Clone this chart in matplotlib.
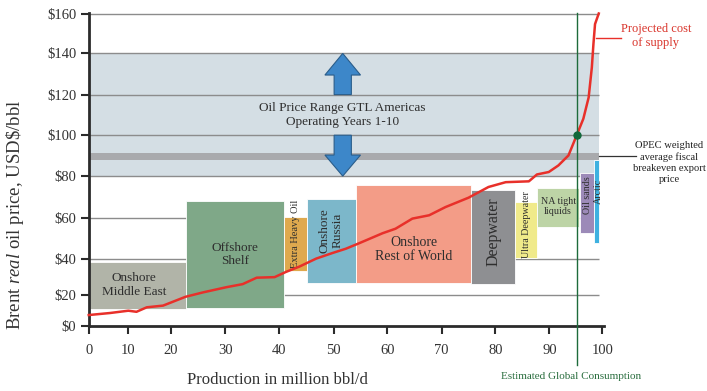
import numpy as np
import matplotlib
matplotlib.use('Agg')
import matplotlib.pyplot as plt
from matplotlib.patches import FancyArrow
from matplotlib.transforms import blended_transform_factory

plt.rcParams['font.family'] = ['Liberation Serif', 'DejaVu Serif']
plt.rcParams['mathtext.fontset'] = 'custom'
plt.rcParams['mathtext.rm'] = 'Liberation Serif'
plt.rcParams['mathtext.it'] = 'Liberation Serif:italic'

# ------------------------------------------------------------------ data
# supply segments: (label, x from, x to, price low, price high)
seg_names = ['Onshore\nMiddle East', 'Offshore\nShelf', 'Extra Heavy Oil',
             'Onshore\nRussia', 'Onshore\nRest of World', 'Deepwater',
             'Ultra Deepwater', 'NA tight\nliquids', 'Oil sands', 'Arctic']
seg_x0 = [0.0, 22.7, 40.9, 45.0, 54.1, 75.5, 83.7, 87.8, 95.7, 98.5]
seg_x1 = [22.7, 40.9, 45.0, 54.1, 75.5, 83.7, 87.8, 95.5, 98.5, 99.4]
seg_lo = [10.8, 11.6, 33.5, 26.7, 26.9, 26.1, 40.6, 55.6, 52.9, 47.8]
seg_hi = [38.5, 68.1, 60.5, 69.3, 75.6, 73.5, 67.6, 74.5, 81.7, 87.7]

# projected cost of supply curve
supply_x = [0.0, 5.4, 10.1, 12.0, 14.4, 18.2, 22.7, 25.9, 30.2, 33.2, 35.8,
            39.1, 41.2, 43.7, 46.8, 49.8, 52.3, 54.8, 59.1, 61.5, 64.6, 67.7,
            70.7, 75.0, 78.7, 81.9, 86.2, 87.7, 89.9, 91.7, 93.6, 95.2, 96.4,
            97.4, 98.0, 98.3, 98.6, 99.3]
supply_y = [7.1, 8.4, 9.9, 9.2, 12.1, 13.2, 18.9, 21.5, 24.4, 26.1, 29.7,
            30.0, 32.9, 35.9, 40.3, 43.0, 45.1, 47.8, 52.6, 54.8, 59.7, 61.3,
            65.2, 69.7, 74.8, 77.1, 77.5, 80.8, 82.0, 85.2, 90.1, 100.3, 108.1,
            118.6, 133.2, 144.7, 154.7, 160.0]

gtl_range = (80, 140)          # oil price range GTL Americas
opec_band = (87.7, 91.1)       # OPEC weighted fiscal breakeven
consumption = 95.3             # estimated global consumption, million bbl/d
breakeven_price = 100.3

x_ticks = [0, 10, 20, 30, 40, 50, 60, 70, 80, 90, 100]
y_ticks = [0, 20, 40, 60, 80, 100, 120, 140, 160]
y_ticklabels = ['$%d' % v for v in y_ticks]

# the source axes are not evenly spaced near the origin: relative tick spacing
x_tick_pos = [0, 39.3, 82.3, 137, 191.3, 245.6, 299.6, 354, 408, 462, 515.3]
y_tick_pos = [0, 31, 67, 108.3, 150.3, 191.3, 232, 273.3, 313.3]


def piecewise(vals, pos):
    vals = np.asarray(vals, float)
    pos = np.asarray(pos, float)

    def conv(v, a, b):
        v = np.asarray(v, float)
        out = np.interp(v, a, b)
        s0 = (b[1] - b[0]) / (a[1] - a[0])
        s1 = (b[-1] - b[-2]) / (a[-1] - a[-2])
        out = np.where(v < a[0], b[0] + (v - a[0]) * s0, out)
        out = np.where(v > a[-1], b[-1] + (v - a[-1]) * s1, out)
        return out
    return (lambda v: conv(v, vals, pos)), (lambda p: conv(p, pos, vals))


# ------------------------------------------------------------------ figure
W, H = 707, 391
fig = plt.figure(figsize=(W / 100, H / 100), dpi=100)
ax = fig.add_axes([0.1255, 0.1662, 0.7289, 0.8013])
ax.set_xscale('function', functions=piecewise(x_ticks, x_tick_pos))
ax.set_yscale('function', functions=piecewise(y_ticks, y_tick_pos))
ax.set_xlim(0, 100.3)
ax.set_ylim(0, 160.4)

band_x = [0, 99.4]
ax.fill_between(band_x, *gtl_range, color='#d4dee4', lw=0, zorder=0)
ax.fill_between(band_x, *opec_band, color='#a9aaad', lw=0, zorder=1)
ax.hlines(y_ticks[1:], 0, 99.4, color='#8c8c8c', lw=1.0, zorder=1.5)

colors = ['#b1b4a8', '#7fa888', '#dfa94e', '#7cb7ca', '#f39c87',
          '#8e8f92', '#f0ea8a', '#bdd4a6', '#9c8ab8', '#3eb1e0']
widths = np.subtract(seg_x1, seg_x0)
heights = np.subtract(seg_hi, seg_lo)
ax.bar(seg_x0, heights, width=widths, bottom=seg_lo, align='edge',
       color=colors, edgecolor='white', lw=0.6, zorder=2)

# label placement inside the segments
label_y = [25.6, 42.3, 52.4, 54.0, 44.8, 53.2, 57.0, 65.6, 70.9, 72.5]
label_rot = [0, 0, 90, 90, 0, 90, 90, 0, 90, 90]
label_fs = [9.5, 9.5, 7.5, 9.5, 10, 11.5, 7.2, 7.2, 7.2, 7.2]
for name, x0, x1, yy, rot, fs in zip(seg_names, seg_x0, seg_x1, label_y,
                                     label_rot, label_fs):
    xc = (x0 + x1) / 2
    if name == 'Arctic':
        xc += 0.3
    ax.text(xc, yy, name, rotation=rot, ha='center', va='center',
            multialignment='center', fontsize=fs, color='#2e2e2e',
            linespacing=1.15, zorder=3)

# up / down arrows for the GTL range
ax_x = 51.7
ax.add_patch(FancyArrow(ax_x, 120, 0, 20, width=3.2, head_width=6.6,
                        head_length=10.5, length_includes_head=True,
                        fc='#3d87c9', ec='#2a5d8a', lw=0.8, zorder=3))
ax.add_patch(FancyArrow(ax_x, 100, 0, -20, width=3.2, head_width=6.6,
                        head_length=10.3, length_includes_head=True,
                        fc='#3d87c9', ec='#2a5d8a', lw=0.8, zorder=3))
ax.text(ax_x, 110, 'Oil Price Range GTL Americas\nOperating Years 1-10',
        ha='center', va='center', fontsize=9.5, color='#2e2e2e',
        linespacing=1.25, zorder=3)

ax.plot(supply_x, supply_y, color='#e8302a', lw=1.8, zorder=4,
        solid_joinstyle='round', clip_on=False)

# consumption line and breakeven point
ax.axvline(consumption, ymin=-0.125, ymax=1, color='#1d6b3b', lw=1.0,
           clip_on=False, zorder=4)
ax.plot(consumption, breakeven_price, 'o', color='#11683a', ms=5, zorder=5)

# leader lines
ax.plot([98.7, 103.5], [147.9, 147.9], color='#e8302a', lw=1.0,
        clip_on=False, zorder=4)
ax.plot([99.4, 106.4], [89.8, 89.8], color='#333333', lw=0.9,
        clip_on=False, zorder=4)

fig.text(656 / W, 1 - 36 / H, 'Projected cost\nof supply', ha='center',
         va='center', fontsize=9, color='#d9342b', linespacing=1.2)
fig.text(669 / W, 1 - 162.5 / H,
         'OPEC weighted\naverage fiscal\nbreakeven export\nprice',
         ha='center', va='center', fontsize=7.6, color='#222222',
         linespacing=1.28)

trans = blended_transform_factory(ax.transData, ax.transAxes)
ax.text(94.1, -0.162, 'Estimated Global Consumption', transform=trans,
        ha='center', va='center', fontsize=8, color='#2a6e3f')

# axes styling
for side in ('top', 'right'):
    ax.spines[side].set_visible(False)
for side in ('left', 'bottom'):
    ax.spines[side].set_linewidth(2.0)
    ax.spines[side].set_color('#2b2b2b')
ax.set_xticks(x_ticks)
ax.set_xticklabels([str(v) for v in x_ticks])
ax.set_yticks(y_ticks)
ax.set_yticklabels(y_ticklabels)
ax.minorticks_off()
ax.tick_params(axis='both', length=6, width=1.5, color='#2b2b2b',
               labelsize=10.5, labelcolor='#333333')
ax.tick_params(axis='x', pad=7)
ax.tick_params(axis='y', pad=3)

# axis titles
fig.text(277 / W, 1 - 380 / H, 'Production in million bbl/d', ha='center',
         va='center', fontsize=12, color='#333333')
fig.text(15 / W, 1 - 215 / H, r'Brent $\mathit{real}$ oil price, USD\$/bbl',
         rotation=90, ha='center', va='center', fontsize=13.5,
         color='#333333')

fig.savefig('out.png', dpi=100)
